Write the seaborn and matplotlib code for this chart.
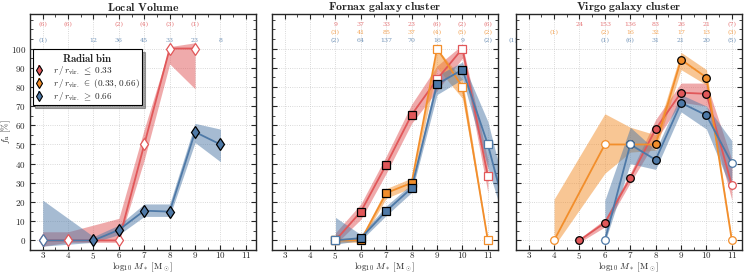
import numpy as np
import matplotlib
matplotlib.use('Agg')
import matplotlib.pyplot as plt
from matplotlib.ticker import AutoMinorLocator, FuncFormatter
import seaborn as sns

sns.set_style('ticks')
plt.rcParams['font.family'] = ['DejaVu Serif']
plt.rcParams['mathtext.fontset'] = 'cm'

red = '#e15759'
orange = '#f28e2b'
blue = '#4e79a7'

# ---- Local Volume ----
lv_red_x = [3, 4, 6, 7, 8, 9]
lv_red_y = [0, 0, 0, 50, 100, 100]
lv_red_lo = [-3, -1, -1, 42, 92, 79]
lv_red_hi = [4.5, 4.5, 11.5, 58, 101, 103]
lv_red_n = ['(6)', '(6)', '(2)', '(4)', '(3)', '(1)']

lv_blue_x = [3, 5, 6, 7, 8, 9, 10]
lv_blue_y = [0, 0, 5.5, 15.5, 15, 56.5, 50]
lv_blue_lo = [-3, -1, 3, 12.5, 12.5, 51, 41]
lv_blue_hi = [21, 2, 8, 19, 19, 61, 58]
lv_blue_n = ['(1)', '12', '36', '45', '33', '23', '8']

# ---- Fornax ----
fx_red_x = [5, 6, 7, 8, 9, 10, 11]
fx_red_y = [0, 15, 39.5, 65.5, 84, 100, 33.5]
fx_red_lo = [-2, 11, 35, 61, 78, 95, 25]
fx_red_hi = [4, 19, 44, 71, 91, 102, 42]
fx_red_n = ['9', '37', '33', '23', '(6)', '(2)', '(6)']

fx_orange_x = [5, 6, 7, 8, 9, 10, 11]
fx_orange_y = [0, 0, 24.7, 30, 100, 80, 0]
fx_orange_lo = [-1, -1, 22, 27.5, 90, 74, -1]
fx_orange_hi = [1, 1.5, 27, 32.5, 100, 84, 1]
fx_orange_n = ['(3)', '41', '85', '37', '(4)', '(5)', '(2)']

fx_blue_x = [5, 6, 7, 8, 9, 10, 11, 12]
fx_blue_y = [0, 1.2, 15.3, 27.3, 81.4, 89, 50, 0]
fx_blue_lo = [-2, 0, 13, 25, 76, 84, 38, -5]
fx_blue_hi = [12, 3, 18, 29.5, 86, 93, 62, 10]
fx_blue_n = ['(2)', '64', '137', '70', '16', '9', '(2)', '(1)']

# ---- Virgo ----
vg_red_x = [5, 6, 7, 8, 9, 10, 11]
vg_red_y = [0, 9.2, 32.5, 58, 77, 76.4, 28.7]
vg_red_lo = [-1, 7, 30, 52, 72, 70, 21]
vg_red_hi = [1, 11, 35, 63, 82, 82, 42]
vg_red_n = ['24', '153', '136', '83', '26', '21', '(7)']

vg_orange_x = [4, 6, 7, 8, 9, 10, 11]
vg_orange_y = [0, 50, 50, 50, 94.2, 84.9, 0]
vg_orange_lo = [-3, 35, 46, 47, 89, 81, -1]
vg_orange_hi = [21.5, 66, 59, 55, 98, 89, 1]
vg_orange_n = ['(1)', '(2)', '16', '32', '17', '13', '(3)']

vg_blue_x = [6, 7, 8, 9, 10, 11]
vg_blue_y = [0, 50, 42, 71.7, 65.2, 40.2]
vg_blue_lo = [-1, 40, 37, 67, 58, 26]
vg_blue_hi = [21, 59, 47, 76, 70, 52]
vg_blue_n = ['(1)', '(6)', '31', '21', '20', '(5)']

panels = [
    ('Local\\ Volume', 'd', [
        (red, lv_red_x, lv_red_y, lv_red_lo, lv_red_hi, lv_red_n, 112.5),
        (blue, lv_blue_x, lv_blue_y, lv_blue_lo, lv_blue_hi, lv_blue_n, 104.2),
    ]),
    ('Fornax\\ galaxy\\ cluster', 's', [
        (red, fx_red_x, fx_red_y, fx_red_lo, fx_red_hi, fx_red_n, 112.5),
        (orange, fx_orange_x, fx_orange_y, fx_orange_lo, fx_orange_hi, fx_orange_n, 108.3),
        (blue, fx_blue_x, fx_blue_y, fx_blue_lo, fx_blue_hi, fx_blue_n, 104.2),
    ]),
    ('Virgo\\ galaxy\\ cluster', 'o', [
        (red, vg_red_x, vg_red_y, vg_red_lo, vg_red_hi, vg_red_n, 112.5),
        (orange, vg_orange_x, vg_orange_y, vg_orange_lo, vg_orange_hi, vg_orange_n, 108.3),
        (blue, vg_blue_x, vg_blue_y, vg_blue_lo, vg_blue_hi, vg_blue_n, 104.2),
    ]),
]

fig = plt.figure(figsize=(7.47, 2.75), dpi=100)
lefts = [30 / 747, 272 / 747, 516 / 747]
fmt = FuncFormatter(lambda v, p: r'$%g$' % v)

for i, (title, mk, series) in enumerate(panels):
    ax = fig.add_axes([lefts[i], 25 / 275, 226 / 747, 236 / 275])
    for color, x, y, lo, hi, n, ty in series:
        ax.fill_between(x, lo, hi, color=color, alpha=0.5, lw=0, zorder=1)
        sns.lineplot(x=x, y=y, color=color, lw=1.3, ax=ax, sort=False, zorder=2)
        for xi, yi, ni in zip(x, y, n):
            opened = ni.startswith('(')
            ax.plot(xi, yi, ls='none', marker=mk, ms=5.5 if mk != 'd' else 6,
                    mfc='white' if opened else color, mec=color if opened else 'k',
                    mew=0.9, zorder=3)
            ax.text(xi, ty, ni, color=color, alpha=0.8, fontsize=4.5,
                    ha='center', va='center', clip_on=False)
    ax.set_xlim(2.5, 11.4)
    ax.set_ylim(-5, 118)
    ax.set_xticks(range(3, 12))
    ax.set_yticks(range(0, 101, 10))
    ax.xaxis.set_minor_locator(AutoMinorLocator(2))
    ax.yaxis.set_minor_locator(AutoMinorLocator(2))
    ax.tick_params(which='both', direction='in', top=True, right=True, labelsize=6.5)
    ax.tick_params(which='major', length=3.5, width=0.8)
    ax.tick_params(which='minor', length=2, width=0.6)
    ax.tick_params(axis='x', pad=0)
    ax.tick_params(axis='y', pad=3)
    ax.xaxis.set_major_formatter(fmt)
    ax.yaxis.set_major_formatter(fmt)
    if i > 0:
        ax.set_yticklabels([])
    for s in ax.spines.values():
        s.set_linewidth(1.0)
    ax.grid(True, which='major', ls=':', color='0.8', lw=0.6)
    ax.set_axisbelow(True)
    ax.set_title(r'$\mathbf{%s}$' % title, fontsize=8.5, pad=0.3)
    ax.set_xlabel(r'$\log_{10}\,M_*\ [\mathrm{M}_\odot]$', fontsize=6.5)
    ax.xaxis.set_label_coords(0.5, -0.045)
    if i == 0:
        ax.set_ylabel(r'$f_{\rm n}\ [\%]$', fontsize=6.5)
        ax.yaxis.set_label_coords(-0.075, 0.5)
        handles = []
        for c in [red, orange, blue]:
            h = ax.errorbar([np.nan], [np.nan], yerr=[[1], [1]], fmt='d', ms=5,
                            mfc=c, mec='k', mew=0.8, ecolor=c, elinewidth=1.2)
            handles.append(h)
        labels = [r'$r\,/\,r_{\rm vir.}\;\leq\;0.33$',
                  r'$r\,/\,r_{\rm vir.}\;\in\;(0.33,\,0.66)$',
                  r'$r\,/\,r_{\rm vir.}\;\geq\;0.66$']
        leg = ax.legend(handles, labels, title=r'$\mathbf{Radial\ bin}$',
                        loc='upper left', bbox_to_anchor=(0.012, 0.852),
                        borderaxespad=0, fontsize=6.6, title_fontsize=7.8,
                        fancybox=False, edgecolor='k', shadow=True,
                        framealpha=1, handlelength=0.8, handleheight=0.5,
                        handletextpad=1.1, labelspacing=0.0, borderpad=0.3)
        leg.get_frame().set_linewidth(0.8)

fig.savefig('out.png', dpi=100)
